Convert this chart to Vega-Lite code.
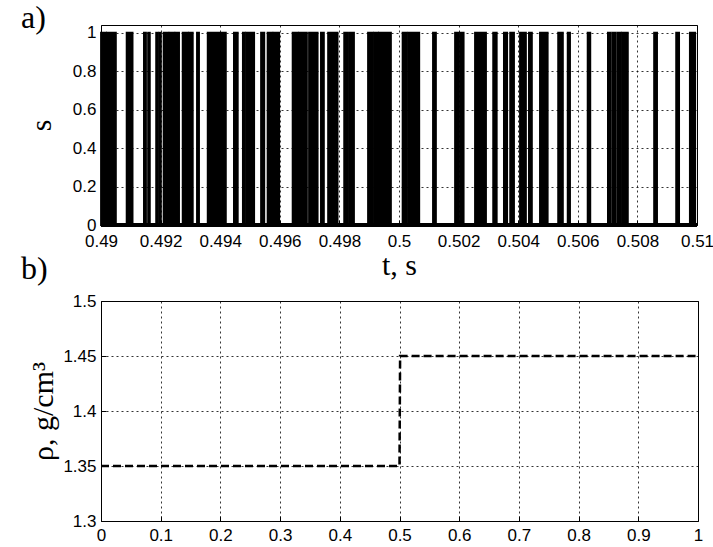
{
  "$schema": "https://vega.github.io/schema/vega-lite/v6.json",
  "background": "white",
  "padding": {"left": 20, "top": 1, "right": 5, "bottom": 0},
  "spacing": 76,
  "bounds": "flush",
  "config": {
    "view": {"stroke": "black", "strokeWidth": 1},
    "axis": {
      "labelFont": "Liberation Sans", "labelFontSize": 17, "labelColor": "black",
      "labelOverlap": false, "labelFlush": false, "labelBound": false, "tickCount": 30,
      "titleFont": "Liberation Serif", "titleFontSize": 30, "titleFontWeight": "normal", "titleColor": "black",
      "domain": false, "ticks": true, "tickColor": "black", "tickSize": -5, "tickWidth": 1,
      "grid": true, "gridColor": "black", "gridDash": [2, 3], "gridOpacity": 1, "gridWidth": 0.8
    },
    "axisX": {"labelPadding": 13, "titlePadding": 1},
    "axisY": {"labelPadding": 10},
    "title": {"font": "Liberation Serif", "fontSize": 32, "fontWeight": "normal", "color": "black", "anchor": "start", "frame": "group", "baseline": "alphabetic"}
  },
  "vconcat": [
    {
      "width": 596,
      "height": 200,
      "title": {"text": "a)", "dx": -80, "offset": -11},
      "data": {"values": [
        {"t0": 0.49000, "t1": 0.49017}, {"t0": 0.49020, "t1": 0.49050}, {"t0": 0.49086, "t1": 0.49106},
        {"t0": 0.49144, "t1": 0.49151}, {"t0": 0.49158, "t1": 0.49164}, {"t0": 0.49185, "t1": 0.49191},
        {"t0": 0.49195, "t1": 0.49201}, {"t0": 0.49210, "t1": 0.49226}, {"t0": 0.49230, "t1": 0.49246},
        {"t0": 0.49250, "t1": 0.49262}, {"t0": 0.49274, "t1": 0.49291}, {"t0": 0.49295, "t1": 0.49308},
        {"t0": 0.49322, "t1": 0.49329}, {"t0": 0.49358, "t1": 0.49419}, {"t0": 0.49446, "t1": 0.49459},
        {"t0": 0.49476, "t1": 0.49483}, {"t0": 0.49487, "t1": 0.49514}, {"t0": 0.49537, "t1": 0.49548},
        {"t0": 0.49559, "t1": 0.49575}, {"t0": 0.49579, "t1": 0.49598}, {"t0": 0.49643, "t1": 0.49660},
        {"t0": 0.49664, "t1": 0.49691}, {"t0": 0.49698, "t1": 0.49727}, {"t0": 0.49738, "t1": 0.49748},
        {"t0": 0.49762, "t1": 0.49794}, {"t0": 0.49816, "t1": 0.49826}, {"t0": 0.49832, "t1": 0.49849},
        {"t0": 0.49896, "t1": 0.49912}, {"t0": 0.49916, "t1": 0.49930}, {"t0": 0.49933, "t1": 0.49950},
        {"t0": 0.49956, "t1": 0.49973}, {"t0": 0.50012, "t1": 0.50027}, {"t0": 0.50032, "t1": 0.50068},
        {"t0": 0.50114, "t1": 0.50124}, {"t0": 0.50188, "t1": 0.50201}, {"t0": 0.50205, "t1": 0.50217},
        {"t0": 0.50255, "t1": 0.50292}, {"t0": 0.50316, "t1": 0.50328}, {"t0": 0.50352, "t1": 0.50363},
        {"t0": 0.50373, "t1": 0.50386}, {"t0": 0.50406, "t1": 0.50426}, {"t0": 0.50436, "t1": 0.50446},
        {"t0": 0.50473, "t1": 0.50499}, {"t0": 0.50534, "t1": 0.50550}, {"t0": 0.50566, "t1": 0.50574},
        {"t0": 0.50633, "t1": 0.50642}, {"t0": 0.50701, "t1": 0.50711}, {"t0": 0.50717, "t1": 0.50726},
        {"t0": 0.50732, "t1": 0.50745}, {"t0": 0.50749, "t1": 0.50768}, {"t0": 0.50856, "t1": 0.50866},
        {"t0": 0.50930, "t1": 0.50940}, {"t0": 0.50976, "t1": 0.50994}
      ]},
      "layer": [
        {
          "mark": {"type": "rect", "color": "black", "stroke": "black", "strokeWidth": 1.8},
          "encoding": {
            "x": {"field": "t0", "type": "quantitative",
                  "scale": {"domain": [0.49, 0.51], "nice": false, "zero": false},
                  "axis": {"title": "t, s", "values": [0.49, 0.492, 0.494, 0.496, 0.498, 0.5, 0.502, 0.504, 0.506, 0.508, 0.51], "format": ".3~f"}},
            "x2": {"field": "t1"},
            "y": {"datum": 0, "type": "quantitative",
                  "scale": {"domain": [0, 1.04], "nice": false},
                  "axis": {"title": "s", "values": [0, 0.2, 0.4, 0.6, 0.8, 1], "format": ".1~f", "titlePadding": 16}},
            "y2": {"datum": 1}
          }
        },
        {
          "mark": {"type": "rule", "color": "black", "strokeWidth": 2.5},
          "encoding": {"y": {"datum": 0, "type": "quantitative"}}
        }
      ]
    },
    {
      "width": 597,
      "height": 220,
      "title": {"text": "b)", "dx": -80, "offset": 6},
      "data": {"values": [
        {"t": 0, "rho": 1.35}, {"t": 0.5, "rho": 1.35}, {"t": 0.501, "rho": 1.45}, {"t": 1, "rho": 1.45}
      ]},
      "mark": {"type": "line", "color": "black", "strokeWidth": 2.5, "strokeDash": [8, 4]},
      "encoding": {
        "x": {"field": "t", "type": "quantitative",
              "scale": {"domain": [0, 1], "nice": false},
              "axis": {"title": "t, s", "values": [0, 0.1, 0.2, 0.3, 0.4, 0.5, 0.6, 0.7, 0.8, 0.9, 1], "format": ".1~f", "labelPadding": 11}},
        "y": {"field": "rho", "type": "quantitative",
              "scale": {"domain": [1.3, 1.5], "nice": false, "zero": false},
              "axis": {"title": "ρ, g/cm³", "values": [1.3, 1.35, 1.4, 1.45, 1.5], "format": ".2~f", "titlePadding": 4}}
      }
    }
  ]
}
